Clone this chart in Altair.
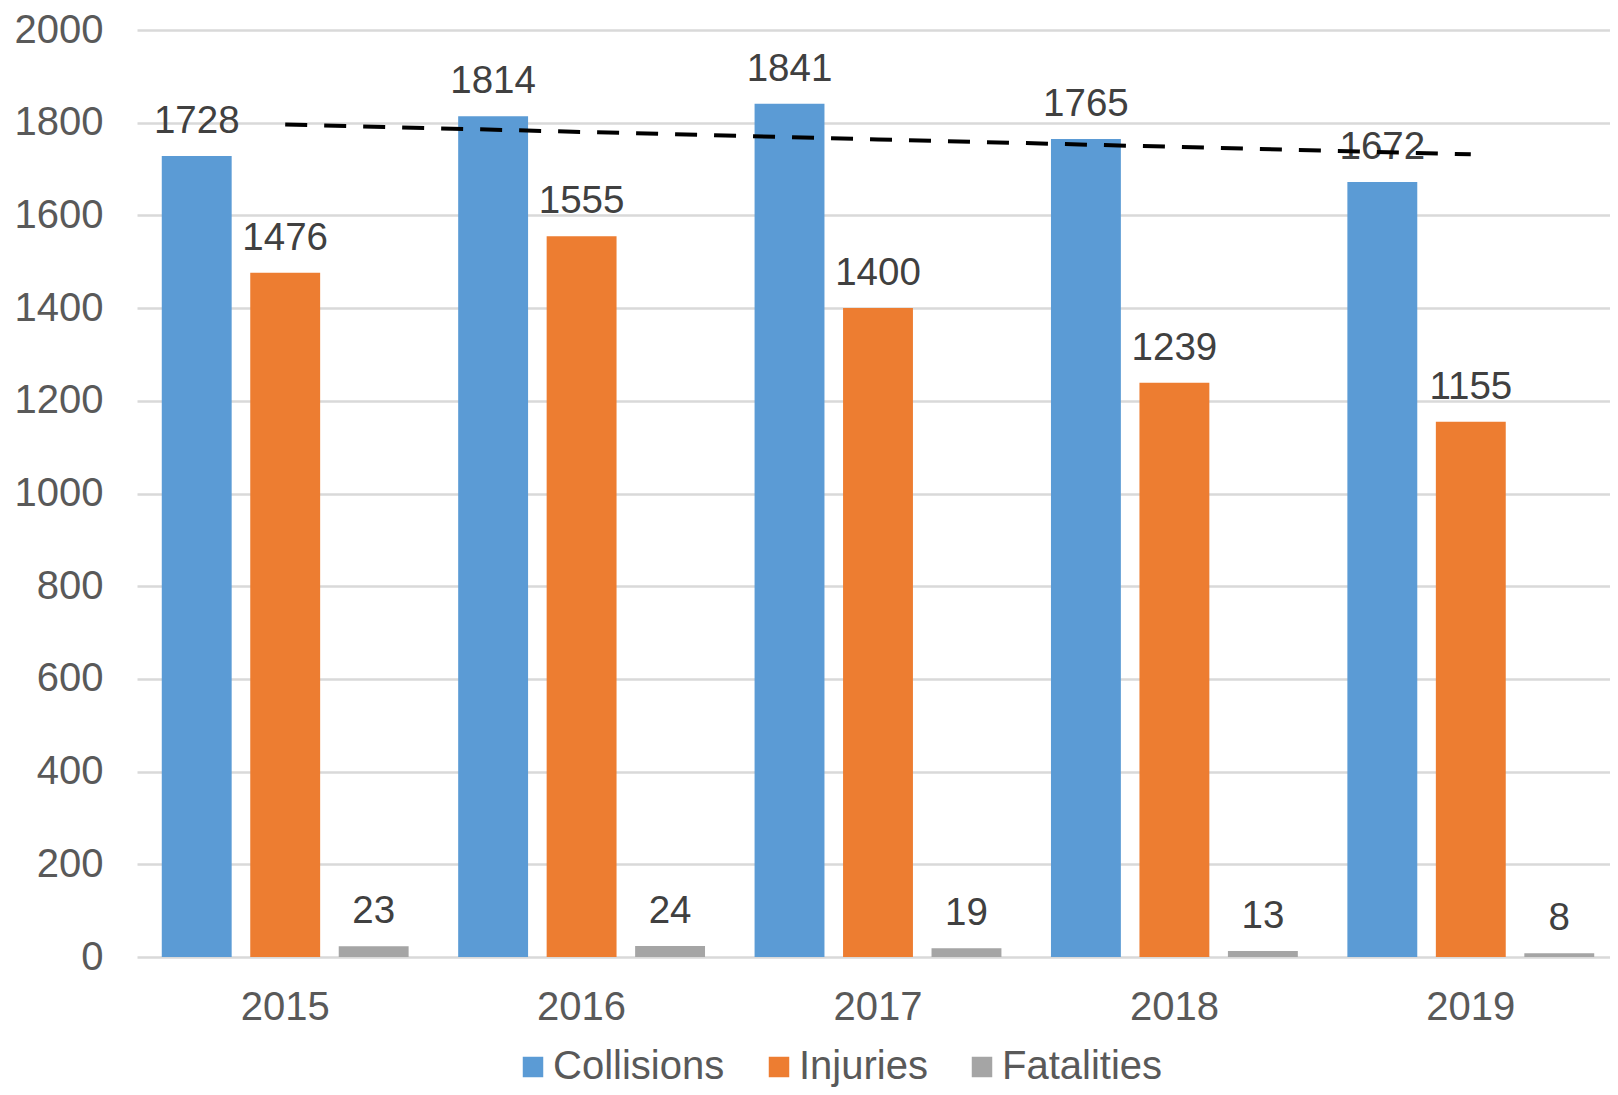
import altair as alt
import numpy as np
import pandas as pd

years = ["2015", "2016", "2017", "2018", "2019"]
series = ["Collisions", "Injuries", "Fatalities"]
collisions = [1728, 1814, 1841, 1765, 1672]
injuries = [1476, 1555, 1400, 1239, 1155]
fatalities = [23, 24, 19, 13, 8]
colors = ["#5B9BD5", "#ED7D31", "#A5A5A5"]

rows = []
for name, vals in zip(series, [collisions, injuries, fatalities]):
    for yr, v in zip(years, vals):
        rows.append({"year": yr, "series": name, "value": v})
df = pd.DataFrame(rows)

# linear trendline of collisions
xs = np.arange(len(years))
slope, intercept = np.polyfit(xs, collisions, 1)
trend = pd.DataFrame({"year": years, "trend": intercept + slope * xs})

FONT = "Liberation Sans"
x_scale = alt.Scale(domain=years, paddingInner=0, paddingOuter=0)
y_scale = alt.Scale(domain=[0, 2000], nice=False)
off_scale = alt.Scale(domain=series, paddingInner=0.21, paddingOuter=0.28)

base = alt.Chart(df)

bars = base.mark_bar().encode(
    x=alt.X("year:N", scale=x_scale, sort=years,
            axis=alt.Axis(title=None, labelAngle=0, ticks=False, domain=False,
                          labelFontSize=40, labelColor="#595959",
                          labelPadding=30, labelFont=FONT)),
    xOffset=alt.XOffset("series:N", sort=series, scale=off_scale),
    y=alt.Y("value:Q", scale=y_scale,
            axis=alt.Axis(title=None, values=list(range(0, 2001, 200)), format="d",
                          domain=False, ticks=False, grid=True, gridColor="#D9D9D9",
                          gridWidth=2.5, labelFontSize=40, labelColor="#595959",
                          labelPadding=34, labelFont=FONT)),
    color=alt.Color("series:N", sort=series,
                    scale=alt.Scale(domain=series, range=colors),
                    legend=alt.Legend(title=None, orient="none", direction="horizontal",
                                      legendX=376, legendY=1017,
                                      symbolType="square", symbolSize=420,
                                      symbolStrokeWidth=0, labelFontSize=40,
                                      labelColor="#595959", labelFont=FONT,
                                      labelLimit=0, labelOffset=0, columnPadding=34)),
)

labels = base.mark_text(baseline="alphabetic", dy=-23, fontSize=38.5,
                        color="#404040", font=FONT).encode(
    x=alt.X("year:N", scale=x_scale, sort=years),
    xOffset=alt.XOffset("series:N", sort=series, scale=off_scale),
    y=alt.Y("value:Q", scale=y_scale),
    text=alt.Text("value:Q"),
)

line = alt.Chart(trend).mark_line(color="black", strokeWidth=4,
                                  strokeDash=[22, 17]).encode(
    x=alt.X("year:N", scale=x_scale, sort=years),
    y=alt.Y("trend:Q", scale=y_scale),
)

chart = alt.layer(bars, labels, line).properties(
    width=1482, height=927,
    padding={"left": 6, "top": 2, "right": -9, "bottom": 0},
).configure(font=FONT).configure_view(stroke=None)

chart.save("out.html", embed_options={"renderer": "svg", "actions": False})
